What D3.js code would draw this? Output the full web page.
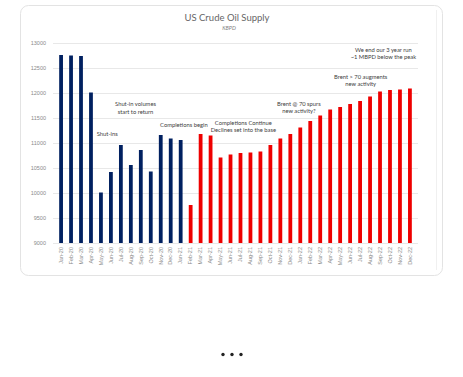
<!DOCTYPE html>
<html>
<head>
<meta charset="utf-8">
<script src="https://cdn.jsdelivr.net/npm/d3@7"></script>
<style>
  body { margin: 0; background: #fff; }
  svg { display: block; font-family: Lato, "Open Sans", sans-serif; }
</style>
</head>
<body>
<svg width="463" height="377"></svg>
<script>
// monthly supply, KBPD
const months = ['Jan-20','Feb-20','Mar-20','Apr-20','May-20','Jun-20','Jul-20','Aug-20','Sep-20','Oct-20','Nov-20','Dec-20',
  'Jan-21','Feb-21','Mar-21','Apr-21','May-21','Jun-21','Jul-21','Aug-21','Sep-21','Oct-21','Nov-21','Dec-21',
  'Jan-22','Feb-22','Mar-22','Apr-22','May-22','Jun-22','Jul-22','Aug-22','Sep-22','Oct-22','Nov-22','Dec-22'];
const supply = [12760, 12750, 12740, 12010, 10010, 10420, 10960, 10560, 10860, 10430, 11160, 11090,
  11060, 9760, 11180, 11150, 10710, 10770, 10800, 10810, 10830, 10960, 11090, 11180,
  11310, 11440, 11550, 11670, 11720, 11780, 11840, 11930, 12030, 12060, 12070, 12090];
const yTicks = [9000, 9500, 10000, 10500, 11000, 11500, 12000, 12500, 13000];
const firstForecast = 'Feb-21'; // red from here on

// text notes, anchored at (month + fraction of a band, value)
const notes = [
  {at: 'May-20', off: 0.63, v: 11140, lines: ['Shut-ins']},
  {at: 'Aug-20', off: 0.47, v: 11740, lines: ['Shut-in volumes', 'start to return']},
  {at: 'Jan-21', off: 0.32, v: 11330, lines: ['Completions begin']},
  {at: 'Jul-21', off: 0.29, v: 11370, lines: ['Completions Continue', 'Declines set into the base']},
  {at: 'Jan-22', off: -0.14, v: 11750, lines: ['Brent @ 70 spurs', 'new activity?']},
  {at: 'Jul-22', off: 0.06, v: 12290, lines: ['Brent > 70 augments', 'new activity']},
  {at: 'Sep-22', off: 0.34, v: 12830, lines: ['We end our 3 year run', '~1 MBPD below the peak']}
];

const svg = d3.select('svg');

// card
svg.append('rect')
  .attr('x', 20.5).attr('y', 5.5).attr('width', 422).attr('height', 270)
  .attr('rx', 8).attr('fill', '#fff').attr('stroke', '#e3e3e3');
svg.append('line')
  .attr('x1', 436.5).attr('x2', 436.5).attr('y1', 10).attr('y2', 270)
  .attr('stroke', '#f0f0f0');

const margin = {left: 53, right: 45, top: 43, bottom: 134};
const x = d3.scaleBand().domain(months).range([margin.left, 463 - margin.right]).padding(0.62);
const y = d3.scaleLinear().domain([9000, 13000]).range([377 - margin.bottom, margin.top]);

// gridlines
svg.append('g').selectAll('line').data(yTicks).enter().append('line')
  .attr('x1', margin.left).attr('x2', 463 - margin.right)
  .attr('y1', d => Math.round(y(d)) + 0.5).attr('y2', d => Math.round(y(d)) + 0.5)
  .attr('stroke', '#e8e8e8');

// y axis
const yAxis = svg.append('g')
  .attr('transform', 'translate(' + (margin.left - 7) + ',0)')
  .call(d3.axisLeft(y).tickValues(yTicks).tickSize(0).tickPadding(0).tickFormat(d3.format('d')));
yAxis.select('.domain').remove();
yAxis.selectAll('text').attr('fill', '#8a8a8a').style('font-size', '5.5px');

// x axis
const xAxis = svg.append('g')
  .attr('transform', 'translate(0,' + y(9000) + ')')
  .call(d3.axisBottom(x).tickSize(0).tickPadding(0));
xAxis.select('.domain').remove();
xAxis.selectAll('text')
  .attr('fill', '#8a8a8a').style('font-size', '5.5px')
  .attr('text-anchor', 'end')
  .attr('transform', 'rotate(-90)')
  .attr('x', -4).attr('y', 0).attr('dy', '0.32em');

// bars
const cut = months.indexOf(firstForecast);
svg.append('g').selectAll('rect').data(supply).enter().append('rect')
  .attr('x', (d, i) => x(months[i]))
  .attr('width', x.bandwidth())
  .attr('y', d => y(d))
  .attr('height', d => y(9000) - y(d))
  .attr('fill', (d, i) => i < cut ? '#002060' : '#ee0000');

// title
svg.append('text').attr('x', 227).attr('y', 20.5).attr('text-anchor', 'middle')
  .attr('fill', '#666').style('font-size', '9.5px').text('US Crude Oil Supply');
svg.append('text').attr('x', 229).attr('y', 30).attr('text-anchor', 'middle')
  .attr('fill', '#7f7f7f').style('font-size', '5.5px').style('font-style', 'italic').text('KBPD');

// annotations
notes.forEach(n => {
  const cx = x(n.at) + x.bandwidth() / 2 + n.off * x.step();
  const t = svg.append('text')
    .attr('x', cx)
    .attr('y', y(n.v))
    .attr('text-anchor', 'middle')
    .attr('fill', '#404040')
    .style('font-size', '5.8px');
  n.lines.forEach((s, i) => {
    t.append('tspan').attr('x', cx).attr('dy', i ? 7.5 : 0).text(s);
  });
});

// pager dots
svg.append('g').selectAll('circle').data([-1, 0, 1]).enter().append('circle')
  .attr('cx', d => 232 + d * 9).attr('cy', 354.5).attr('r', 1.7).attr('fill', '#222');
</script>
</body>
</html>
